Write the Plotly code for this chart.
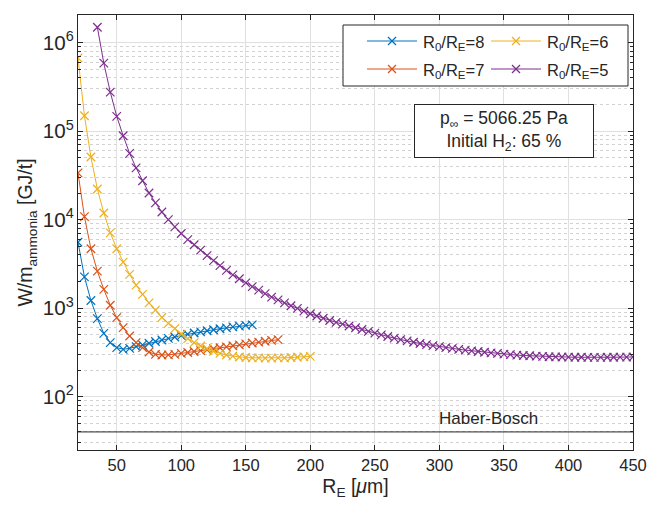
import numpy as np
import plotly.graph_objects as go

# Specific energy consumption vs. equilibrium bubble radius for several expansion ratios
r_e_8 = list(range(20, 160, 5))
w_8 = [5560, 2260, 1220, 762, 520, 408, 359, 343, 352, 368, 385, 402, 420, 437,
       455, 472, 490, 507, 524, 540, 556, 571, 586, 600, 614, 627, 638, 648]

r_e_7 = list(range(20, 180, 5))
w_7 = [3.37e4, 1.08e4, 4690, 2620, 1630, 1080, 782, 603, 485, 408, 359, 320,
       301, 296, 297, 301, 308, 316, 324, 331, 339, 348, 357, 366, 376, 385,
       395, 404, 414, 423, 432, 441]

r_e_6 = list(range(20, 205, 5))
w_6 = [6.7e5, 1.49e5, 5.1e4, 2.22e4, 1.19e4, 7100, 4690, 3310, 2410, 1820, 1430,
       1150, 952, 788, 674, 588, 507, 453, 408, 374, 348, 326, 309, 296, 287, 281,
       277, 275, 274, 273, 273, 274, 275, 277, 279, 282, 285]

r_e_5 = list(range(35, 455, 5))
w_5 = [1.49e6, 5.86e5, 2.76e5, 1.47e5, 8.87e4, 5.6e4, 3.84e4, 2.75e4, 2.0e4,
       1.55e4, 1.22e4, 1.0e4, 8300, 6970, 5950, 5200, 4520, 3930, 3440, 3030,
       2670, 2380, 2150, 1930, 1750, 1600, 1460, 1335, 1240, 1150, 1065, 994,
       926, 865, 816, 769, 726, 692, 660, 629, 601, 574, 548, 523, 500, 479,
       459, 441, 427, 412, 399, 388, 378, 368, 359, 351, 343, 336, 330, 324,
       318, 313, 308, 303, 299, 295, 292, 290, 287, 285, 283, 282, 281, 280,
       279, 279, 278, 278, 278, 279, 279, 280, 280, 281]

ratios = ["8", "7", "6", "5"]
colors = ["#0072BD", "#D95319", "#EDB120", "#7E2F8E"]
series = [(r_e_8, w_8), (r_e_7, w_7), (r_e_6, w_6), (r_e_5, w_5)]

haber_bosch = 40.0
x_range = [20, 450]
y_range = [25, 2.05e6]

FONT = "Liberation Sans, Arial, Helvetica, sans-serif"
INK = "#262626"

W, H = 649, 505
M_L, M_R, M_T, M_B = 78, 16, 15, 55
PW, PH = W - M_L - M_R, H - M_T - M_B


def px_to_paper(px, py):
    """Pixel position in the figure -> paper coordinates of the plot area."""
    return (px - M_L) / PW, 1 - (py - M_T) / PH


fig = go.Figure()

for (x, y), ratio, col in zip(series, ratios, colors):
    fig.add_trace(go.Scatter(
        x=x, y=y, mode="lines+markers",
        name=f"R<sub>0</sub>/R<sub>E</sub>={ratio}",
        line=dict(color=col, width=1),
        marker=dict(symbol="x-thin", size=8.5, color=col,
                    line=dict(color=col, width=1.2)),
        showlegend=False,
    ))

# Haber-Bosch reference level
fig.add_trace(go.Scatter(
    x=x_range, y=[haber_bosch, haber_bosch], mode="lines",
    line=dict(color=INK, width=1), showlegend=False, hoverinfo="skip",
))

fig.add_annotation(
    x=300, y=np.log10(haber_bosch), xref="x", yref="y",
    text="Haber-Bosch", showarrow=False, xanchor="left", yanchor="bottom",
    yshift=2, xshift=-2, font=dict(family=FONT, size=17, color=INK),
)

# Operating conditions box
bx, by = px_to_paper(503.5, 130.5)
fig.add_annotation(
    x=bx, y=by, xref="paper", yref="paper",
    text="p<sub>∞</sub> = 5066.25 Pa<br>Initial H<sub>2</sub>: 65 %",
    showarrow=False, xanchor="center", yanchor="middle", align="center",
    width=176, height=50,
    bgcolor="white", bordercolor=INK, borderwidth=1, borderpad=1,
    font=dict(family=FONT, size=17.5, color=INK),
)

# Legend: framed box with two columns (8, 7 | 6, 5)
lx0, ly0 = px_to_paper(343, 86)
lx1, ly1 = px_to_paper(628, 25)
fig.add_shape(type="rect", xref="paper", yref="paper",
              x0=lx0, x1=lx1, y0=ly0, y1=ly1,
              line=dict(color=INK, width=1), fillcolor="white", layer="above")

entry_slots = [(367, 41), (367, 69), (491, 41), (491, 69)]
line_len, half_x = 50, 4.0
for (sx, sy), ratio, col in zip(entry_slots, ratios, colors):
    ax0, ay = px_to_paper(sx, sy)
    ax1, _ = px_to_paper(sx + line_len, sy)
    fig.add_shape(type="line", xref="paper", yref="paper",
                  x0=ax0, x1=ax1, y0=ay, y1=ay,
                  line=dict(color=col, width=1), layer="above")
    cx = sx + line_len / 2
    for d in (1, -1):
        mx0, my0 = px_to_paper(cx - half_x, sy - d * half_x)
        mx1, my1 = px_to_paper(cx + half_x, sy + d * half_x)
        fig.add_shape(type="line", xref="paper", yref="paper",
                      x0=mx0, x1=mx1, y0=my0, y1=my1,
                      line=dict(color=col, width=1.2), layer="above")
    tx, _ = px_to_paper(sx + line_len + 4, sy)
    fig.add_annotation(
        x=tx, y=ay, xref="paper", yref="paper",
        text=f"R<sub>0</sub>/R<sub>E</sub>={ratio}",
        showarrow=False, xanchor="left", yanchor="middle", yshift=-2,
        font=dict(family=FONT, size=16.5, color=INK),
    )

axis_common = dict(
    showline=True, linecolor=INK, linewidth=1, mirror="ticks",
    ticks="inside", tickcolor=INK, ticklen=5, automargin=False,
    tickfont=dict(family=FONT, size=16.5, color=INK),
    gridcolor="#e0e0e0", gridwidth=1, zeroline=False,
)

fig.update_xaxes(
    range=x_range, dtick=50, tick0=0,
    title=dict(text="R<sub>E</sub> [<i>μ</i>m]", font=dict(family=FONT, size=19.5, color=INK),
               standoff=6),
    **axis_common,
)
fig.update_yaxes(
    type="log", range=[np.log10(y_range[0]), np.log10(y_range[1])],
    dtick=1, exponentformat="power",
    title=dict(text="W/m<sub>ammonia</sub> [GJ/t]", font=dict(family=FONT, size=19.5, color=INK),
               standoff=4),
    minor=dict(dtick="D1", ticks="inside", ticklen=3, tickcolor=INK,
               showgrid=True, gridcolor="#d2d2d2", griddash="dot", gridwidth=1),
    **axis_common,
)

fig.update_layout(
    width=W, height=H,
    margin=dict(l=M_L, r=M_R, t=M_T, b=M_B),
    paper_bgcolor="white", plot_bgcolor="white",
    font=dict(family=FONT, color=INK),
    showlegend=False,
)

fig.write_html("out.html")
